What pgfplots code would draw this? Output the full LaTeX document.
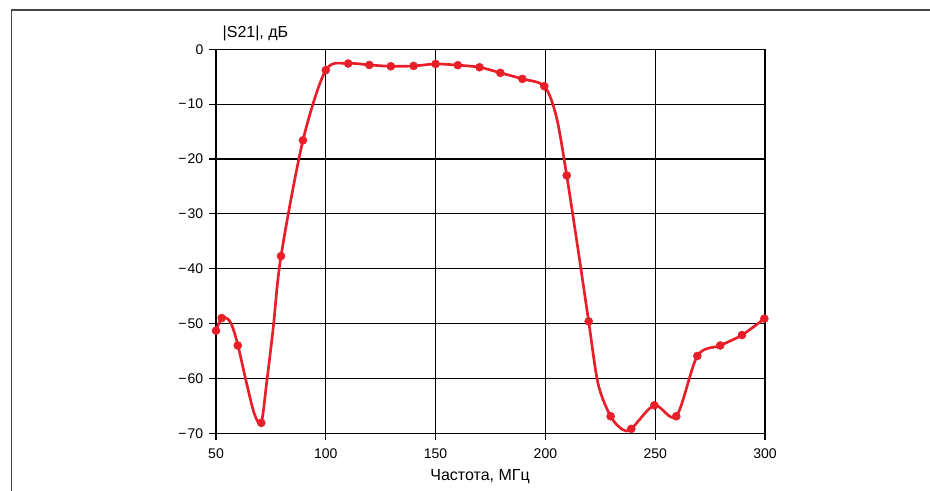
\documentclass[border=0pt]{standalone}
\usepackage{fontspec}
\setmainfont{Liberation Sans}
\usepackage{pgfplots}
\pgfplotsset{compat=1.18}
\definecolor{curvered}{RGB}{232,30,40}
\definecolor{framegray}{RGB}{70,70,70}
\pgfplotstableread{
x y
50 -51.3
52.6 -49.0
55.5 -49.2
57.5 -50.6
60 -54
64 -61
67.5 -66.5
70.6 -68.1
73 -61
76 -51
79.6 -37.7
89.6 -16.6
100 -3.8
110.2 -2.6
119.8 -2.86
129.6 -3.1
140 -3.04
150 -2.68
160.1 -2.9
170 -3.28
179.5 -4.3
189.5 -5.4
199.5 -6.74
205 -12.3
209.7 -23.0
214.9 -36.6
219.7 -49.6
224 -61
229.7 -66.9
235 -69.3
239.1 -69.2
249.6 -64.9
259.6 -66.9
269.2 -55.9
279.6 -54.0
289.5 -52.1
299.7 -49.1
}\curvedata
\pgfplotstableread{
x y
50 -51.3
52.6 -49.0
59.9 -54
70.6 -68.1
79.6 -37.7
89.6 -16.6
100 -3.8
110.2 -2.6
119.8 -2.86
129.6 -3.1
140 -3.04
150 -2.68
160.1 -2.9
170 -3.28
179.5 -4.3
189.5 -5.4
199.5 -6.74
209.7 -23.0
219.7 -49.6
229.7 -66.9
239.1 -69.2
249.6 -64.9
259.6 -66.9
269.2 -55.9
279.6 -54.0
289.5 -52.1
299.7 -49.1
}\markdata
\begin{document}
\begin{tikzpicture}
\useasboundingbox (0pt,0pt) rectangle (697.5pt,368.25pt);
\draw[framegray, line width=1.1pt] (8.6pt,0pt) -- (8.6pt,360.6pt) -- (697.5pt,360.6pt);
\begin{axis}[
  at={(162pt,43.3pt)}, anchor=south west,
  scale only axis, width=411.75pt, height=288pt,
  xmin=50, xmax=300, ymin=-70, ymax=0,
  xtick={50,100,...,300}, ytick={-70,-60,...,0},
  yticklabels={−\kern0.8pt70,−\kern0.8pt60,−\kern0.8pt50,−\kern0.8pt40,−\kern0.8pt30,−\kern0.8pt20,−\kern0.8pt10,0},
  grid=major, grid style={black, line width=0.8pt},
  axis line style={black, line width=0.8pt},
  tick style={black, line width=0.8pt},
  tick align=outside, tick pos=left, major tick length=5pt,
  ticklabel style={font=\fontsize{10.5}{12}\selectfont},
  yticklabel style={xshift=-1pt},
  xticklabel style={yshift=-3pt},
  /pgf/number format/assume math mode=true,
  xlabel={Частота, МГц},
  xlabel style={at={(rel axis cs:0.481,0)}, anchor=base, yshift=-35.6pt, font=\fontsize{12}{14}\selectfont},
  clip=false,
]
\addplot[curvered, line width=2pt, smooth, tension=0.5] table[x=x,y=y] {\curvedata};
\addplot[curvered, only marks, mark=*, mark size=3pt] table[x=x,y=y] {\markdata};
\node[anchor=base west, xshift=1.5pt, yshift=9pt, font=\fontsize{12}{14}\selectfont] at (rel axis cs:0,1) {|S21|, дБ};
\end{axis}
\end{tikzpicture}
\end{document}
